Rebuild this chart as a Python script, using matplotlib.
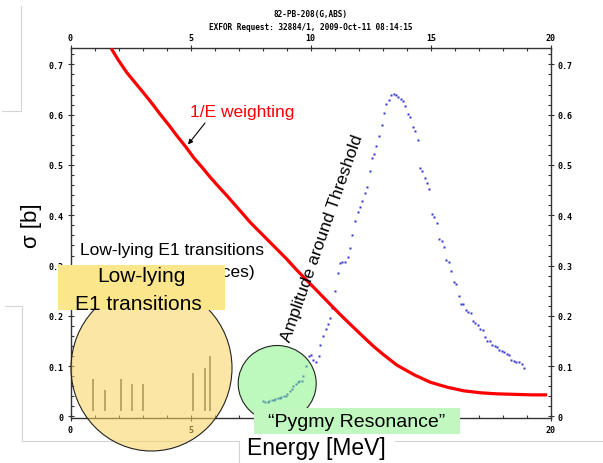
import matplotlib
matplotlib.use("Agg")
import matplotlib.pyplot as plt
from matplotlib.patches import Ellipse, Rectangle
from matplotlib.lines import Line2D
from matplotlib.ticker import MultipleLocator

# Measured photo-absorption cross section, Pb-208 (E in MeV, sigma in b)
energy = [8.01, 8.09, 8.20, 8.28, 8.37, 8.45, 8.53, 8.62, 8.70, 8.78, 8.87, 8.95,
          9.03, 9.12, 9.20, 9.28, 9.37, 9.45, 9.53, 9.62, 9.68, 9.81, 9.93, 10.01,
          10.09, 10.20, 10.34, 10.40, 10.51, 10.65, 10.73, 10.81, 10.90, 11.01,
          11.12, 11.23, 11.31, 11.42, 11.53, 11.65, 11.73, 11.84, 11.95, 12.03,
          12.15, 12.26, 12.34, 12.45, 12.56, 12.62, 12.71, 12.84, 12.95, 13.03,
          13.14, 13.26, 13.34, 13.45, 13.55, 13.65, 13.74, 13.84, 13.94, 14.05,
          14.15, 14.24, 14.34, 14.45, 14.56, 14.65, 14.76, 14.85, 14.94, 15.05,
          15.15, 15.24, 15.34, 15.45, 15.53, 15.65, 15.76, 15.85, 15.95, 16.05,
          16.17, 16.26, 16.35, 16.47, 16.55, 16.66, 16.76, 16.85, 16.95, 17.05,
          17.15, 17.26, 17.35, 17.47, 17.56, 17.66, 17.77, 17.85, 17.95, 18.05,
          18.15, 18.26, 18.34, 18.45, 18.56, 18.67, 18.78, 18.87]
sigma = [0.030, 0.028, 0.029, 0.031, 0.032, 0.033, 0.035, 0.036, 0.037, 0.039, 0.041, 0.041,
         0.045, 0.051, 0.055, 0.060, 0.064, 0.069, 0.071, 0.071, 0.080, 0.100, 0.120, 0.123,
         0.113, 0.108, 0.120, 0.142, 0.161, 0.173, 0.183, 0.196, 0.216, 0.250,
         0.286, 0.305, 0.307, 0.308, 0.318, 0.334, 0.360, 0.389, 0.407, 0.417,
         0.429, 0.445, 0.456, 0.488, 0.513, 0.522, 0.538, 0.557, 0.579, 0.604,
         0.621, 0.630, 0.640, 0.641, 0.640, 0.636, 0.632, 0.627, 0.618, 0.601,
         0.596, 0.576, 0.568, 0.550, 0.495, 0.489, 0.475, 0.464, 0.452, 0.402,
         0.397, 0.384, 0.352, 0.349, 0.336, 0.311, 0.308, 0.290, 0.267, 0.264,
         0.239, 0.224, 0.224, 0.211, 0.208, 0.206, 0.189, 0.185, 0.181, 0.173,
         0.172, 0.159, 0.151, 0.150, 0.143, 0.140, 0.138, 0.132, 0.131, 0.128,
         0.124, 0.122, 0.113, 0.110, 0.109, 0.108, 0.105, 0.097]

# 1/E weighting curve
weight_e = [1.69, 2.0, 2.34, 2.7, 3.03, 3.4, 3.73, 4.1, 4.43, 4.8, 5.12, 5.5, 5.81,
            6.2, 6.51, 7.06, 7.5, 8.0, 8.5, 9.0, 9.4, 9.85, 10.3, 10.81, 11.2,
            11.65, 12.2, 12.6, 13.0, 13.59, 14.3, 14.98, 15.7, 16.37, 17.1, 17.76,
            18.5, 19.2, 19.84]
weight_s = [0.732, 0.708, 0.684, 0.663, 0.644, 0.622, 0.601, 0.579, 0.558, 0.536,
            0.515, 0.494, 0.476, 0.455, 0.439, 0.409, 0.385, 0.361, 0.337, 0.313,
            0.292, 0.270, 0.248, 0.223, 0.204, 0.183, 0.158, 0.140, 0.124, 0.102,
            0.083, 0.068, 0.058, 0.051, 0.047, 0.045, 0.044, 0.043, 0.043]

# Low-lying E1 transitions (discrete lines)
e1_energy = [0.95, 1.42, 2.10, 2.57, 3.03, 5.11, 5.58, 5.81]
e1_height = [0.075, 0.053, 0.075, 0.065, 0.065, 0.086, 0.097, 0.120]
e1_base = 0.01

W, H = 603, 464
fig = plt.figure(figsize=(W / 100, H / 100), dpi=100)

ax_l, ax_r, ax_t, ax_b = 70.5, 551, 49.3, 419
ax = fig.add_axes([ax_l / W, 1 - ax_b / H, (ax_r - ax_l) / W, (ax_b - ax_t) / H])
ax.set_xlim(0, 20)
ax.set_ylim(-0.003, 0.732)

ax.plot(weight_e, weight_s, color="#FF0000", lw=2.3, solid_capstyle="butt",
        solid_joinstyle="round", zorder=3)
ax.plot(energy, sigma, ls="none", marker="s", ms=1.9, mec="none", mfc="#3535D0", zorder=2)
ax.vlines(e1_energy, e1_base, e1_height, color="#4a4a4a", lw=1.1, zorder=2)

ax.xaxis.set_major_locator(MultipleLocator(5))
ax.xaxis.set_minor_locator(MultipleLocator(1))
ax.yaxis.set_major_locator(MultipleLocator(0.1))
ax.yaxis.set_minor_locator(MultipleLocator(0.02))
ax.yaxis.set_major_formatter(matplotlib.ticker.FuncFormatter(lambda v, p: "0" if abs(v) < 1e-9 else f"{v:.1f}"))
ax.tick_params(which="both", top=True, right=True, labeltop=True, labelright=True,
               color="#333333", width=0.8, labelsize=6, pad=2.5)
ax.tick_params(which="major", direction="inout", length=4.5)
ax.tick_params(which="minor", direction="in", length=2.5)
for lab in ax.get_xticklabels() + ax.get_yticklabels():
    lab.set_fontfamily("DejaVu Sans Mono")
    lab.set_fontweight("bold")
for s in ax.spines.values():
    s.set_color("#333333")
    s.set_linewidth(1.0)

fig.text(310.75 / W, 1 - 15 / H, "82-PB-208(G,ABS)", ha="center", va="center",
         family="DejaVu Sans Mono", weight="bold", fontsize=5.6)
fig.text(310.75 / W, 1 - 27 / H, "EXFOR Request: 32884/1, 2009-Oct-11 08:14:15",
         ha="center", va="center", family="DejaVu Sans Mono", weight="bold", fontsize=5.6)

# Overlay in pixel coordinates for the slide annotations
ov = fig.add_axes([0, 0, 1, 1], zorder=5)
ov.set_xlim(0, W)
ov.set_ylim(H, 0)
ov.axis("off")
ov.patch.set_visible(False)

gray = "#d4d4d4"
for xs, ys in [([2, 21, 21], [112, 112, 7]),
               ([5, 21.7, 21.7, 238.5, 238.5], [307, 307, 442, 442, 464]),
               ([395, 603], [442, 442])]:
    ov.add_line(Line2D(xs, ys, color=gray, lw=0.8, zorder=1))

sans = "Liberation Sans"
ov.text(171.5, 255, "Low-lying E1 transitions", ha="center", va="baseline",
        family=sans, fontsize=12.5, zorder=2)
ov.text(171.5, 277, "(Pygmy Resonances)", ha="center", va="baseline",
        family=sans, fontsize=12.5, zorder=2)

ov.add_patch(Ellipse((151.5, 369), 161, 166, facecolor="#FBD35E", alpha=0.55,
                     edgecolor="none", zorder=2.5))
ov.add_patch(Ellipse((151.5, 369), 161, 166, facecolor="none", edgecolor="#222222",
                     lw=0.8, zorder=2.6))
ov.add_patch(Rectangle((58, 266), 167, 44.7, facecolor="#FCE68C", edgecolor="none", zorder=3))
ov.text(141, 281.7, "Low-lying", ha="center", va="baseline", family=sans, fontsize=15, zorder=4)
ov.text(138, 310, "E1 transitions", ha="center", va="baseline", family=sans, fontsize=15, zorder=4)

ov.add_patch(Ellipse((277.2, 384.5), 78, 76, facecolor="#7CF57C", alpha=0.5,
                     edgecolor="none", zorder=2.5))
ov.add_patch(Ellipse((277.2, 384.5), 78, 76, facecolor="none", edgecolor="#222222",
                     lw=0.8, zorder=2.6))
ov.add_patch(Rectangle((254, 409), 206, 26, facecolor="#C0F8C0", edgecolor="none", zorder=3))
ov.text(357, 427, "\u201cPygmy Resonance\u201d", ha="center", va="baseline",
        family=sans, fontsize=14, zorder=4)

ov.text(190, 116.7, "1/E weighting", ha="left", va="baseline", color="#FF0000",
        family=sans, fontsize=12.5, zorder=4)
ov.annotate("", xy=(188, 145.5), xytext=(205, 124),
            arrowprops=dict(arrowstyle="-|>", color="black", lw=0.8,
                            mutation_scale=7, shrinkA=0, shrinkB=0), zorder=4)
ov.text(322, 238, "Amplitude around Threshold", ha="center", va="center",
        rotation=70.6, rotation_mode="anchor", family=sans, fontsize=12.5, zorder=4)

ov.text(31, 226, "\u03c3 [b]", ha="center", va="center", rotation=90,
        family=sans, fontsize=16, zorder=4)
ov.text(316, 449, "Energy [MeV]", ha="center", va="center",
        family=sans, fontsize=16.5, zorder=4)

fig.savefig("out.png", dpi=100)
